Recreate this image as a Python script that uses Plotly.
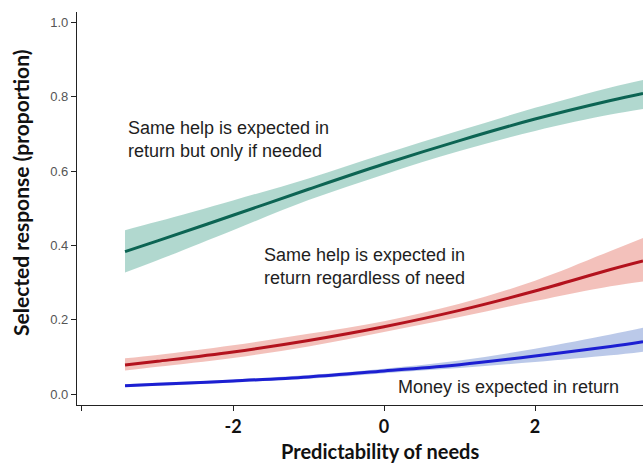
import plotly.graph_objects as go

# Predictability of needs (standardised)
x_vals = [-3.43, -3.0, -2.0, -1.0, 0.0, 1.0, 2.0, 3.0, 3.43]

# Same help expected in return but only if needed
only_if_needed = [0.383, 0.412, 0.481, 0.551, 0.619, 0.682, 0.740, 0.790, 0.809]
only_if_needed_hi = [0.441, 0.464, 0.521, 0.580, 0.646, 0.709, 0.770, 0.825, 0.845]
only_if_needed_lo = [0.327, 0.360, 0.441, 0.522, 0.591, 0.654, 0.708, 0.752, 0.767]

# Same help expected in return regardless of need
regardless = [0.078, 0.088, 0.113, 0.144, 0.181, 0.225, 0.277, 0.335, 0.358]
regardless_hi = [0.096, 0.105, 0.131, 0.162, 0.196, 0.243, 0.305, 0.385, 0.420]
regardless_lo = [0.063, 0.073, 0.097, 0.128, 0.167, 0.207, 0.250, 0.290, 0.303]

# Money expected in return
money = [0.022, 0.026, 0.035, 0.046, 0.062, 0.079, 0.102, 0.128, 0.141]
money_hi = [0.026, 0.030, 0.039, 0.051, 0.068, 0.090, 0.122, 0.160, 0.178]
money_lo = [0.019, 0.022, 0.031, 0.041, 0.056, 0.070, 0.086, 0.104, 0.114]

x_ticks = [-4, -2, 0, 2]
x_tick_text = ["", "<b>-2</b>", "<b>0</b>", "<b>2</b>"]
y_ticks = [0.0, 0.2, 0.4, 0.6, 0.8, 1.0]
y_tick_text = ["0.0", "0.2", "0.4", "0.6", "0.8", "1.0"]

series = [
    (only_if_needed, only_if_needed_lo, only_if_needed_hi, "#0c6453", "rgba(140,197,184,0.68)"),
    (regardless, regardless_lo, regardless_hi, "#b3121d", "rgba(236,155,145,0.62)"),
    (money, money_lo, money_hi, "#1c1fd2", "rgba(145,168,220,0.62)"),
]

fig = go.Figure()
for mid, lo, hi, line_col, band_col in series:
    fig.add_trace(go.Scatter(x=x_vals, y=hi, mode="lines", line=dict(width=0, shape="spline"),
                             hoverinfo="skip", showlegend=False))
    fig.add_trace(go.Scatter(x=x_vals, y=lo, mode="lines", line=dict(width=0, shape="spline"),
                             fill="tonexty", fillcolor=band_col, hoverinfo="skip", showlegend=False))
    fig.add_trace(go.Scatter(x=x_vals, y=mid, mode="lines",
                             line=dict(color=line_col, width=3, shape="spline"), showlegend=False))

text_font = dict(family="Liberation Sans, Arial, sans-serif", size=18, color="#1e1e1e")
title_font = dict(family="Lato, sans-serif", size=20, color="#111111")
ytitle_font = dict(family="Lato, sans-serif", size=21, color="#111111")

annotations = [
    dict(text="Same help is expected in<br>return but only if needed", x=0.086, y=(405 - 139) / 393),
    dict(text="Same help is expected in<br>return regardless of need", x=0.327, y=(405 - 266) / 393),
    dict(text="Money is expected in return", x=0.563, y=(405 - 387) / 393),
]
for a in annotations:
    fig.add_annotation(text=a["text"], x=a["x"], y=a["y"], xref="paper", yref="paper",
                       xanchor="left", yanchor="middle", align="left", showarrow=False,
                       font=text_font)

fig.add_annotation(text="<b>Predictability of needs</b>", x=(380 - 77) / 566, y=(405 - 451) / 393,
                   xref="paper", yref="paper", xanchor="center", yanchor="middle",
                   showarrow=False, font=title_font)
fig.add_annotation(text="<b>Selected response (proportion)</b>", x=(21 - 77) / 566, y=(405 - 193) / 393,
                   xref="paper", yref="paper", xanchor="center", yanchor="middle",
                   textangle=-90, showarrow=False, font=ytitle_font)

fig.update_layout(
    width=643, height=463,
    margin=dict(l=77, r=0, t=12, b=58),
    paper_bgcolor="white", plot_bgcolor="white",
    xaxis=dict(range=[-4.066, 3.43], showgrid=False, zeroline=False, showline=True,
               linecolor="#222222", linewidth=1.2, ticks="outside", ticklen=5, tickcolor="#222222",
               tickvals=x_ticks, ticktext=x_tick_text,
               tickfont=dict(family="Lato, sans-serif", size=18, color="#111111")),
    yaxis=dict(range=[-0.0296, 1.028], showgrid=False, zeroline=False, showline=True,
               linecolor="#222222", linewidth=1.2, ticks="outside", ticklen=5, tickcolor="#222222",
               tickvals=y_ticks, ticktext=y_tick_text,
               tickfont=dict(family="Liberation Sans, Arial, sans-serif", size=13, color="#555555")),
)

fig.write_html("out.html")
